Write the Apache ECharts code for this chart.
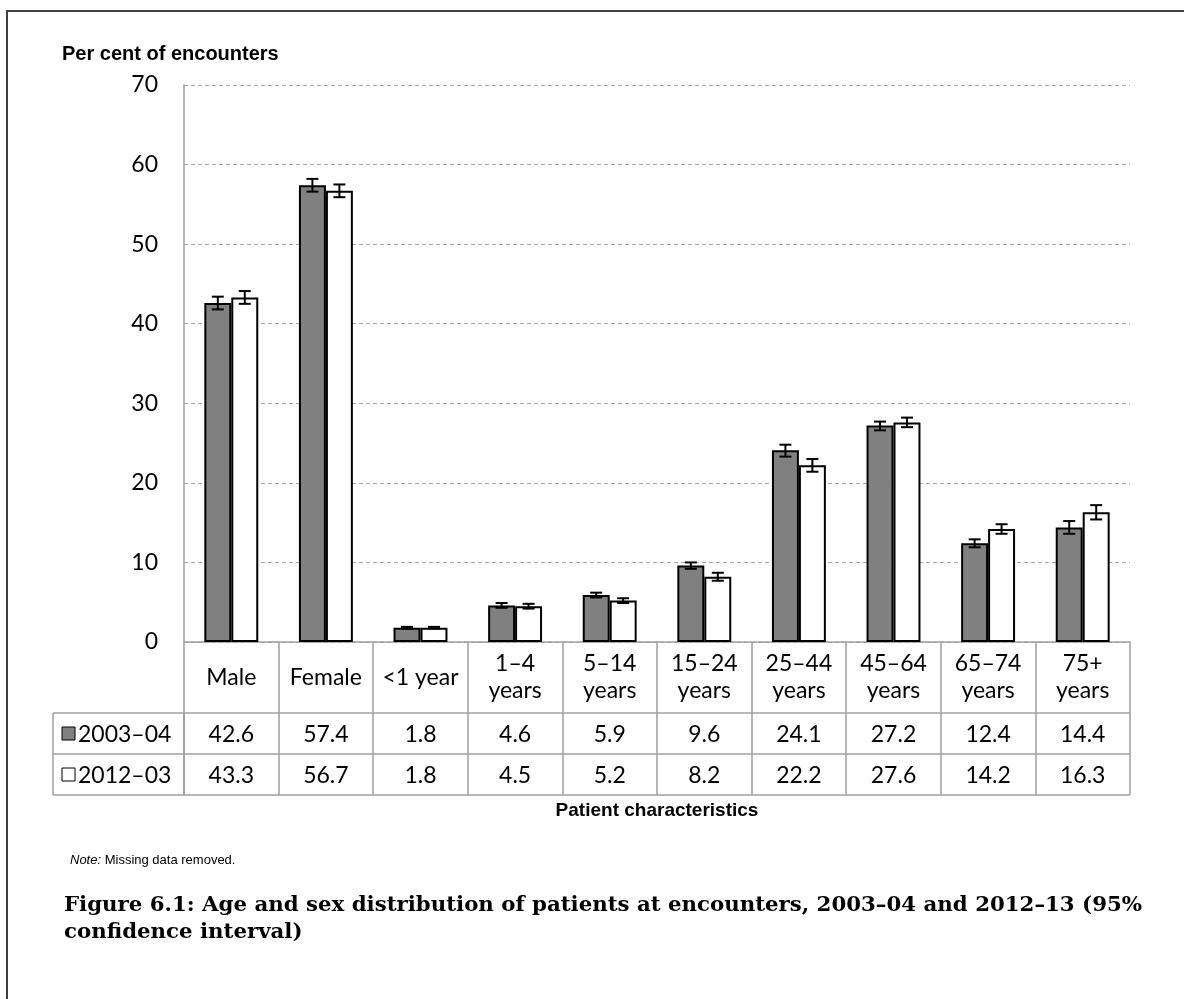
<!DOCTYPE html>
<html>
<head>
<meta charset="utf-8">
<script src="https://cdn.jsdelivr.net/npm/echarts@6/dist/echarts.min.js"></script>
<style>html,body{margin:0;padding:0;background:#fff;}#c{width:1184px;height:999px;}</style>
</head>
<body>
<div id="c"></div>
<script>
const categories = ['Male', 'Female', '<1 year', '1–4\nyears', '5–14\nyears', '15–24\nyears', '25–44\nyears', '45–64\nyears', '65–74\nyears', '75+\nyears'];
const seriesNames = ['2003–04', '2012–03'];
const values2003 = [42.6, 57.4, 1.8, 4.6, 5.9, 9.6, 24.1, 27.2, 12.4, 14.4];
const values2012 = [43.3, 56.7, 1.8, 4.5, 5.2, 8.2, 22.2, 27.6, 14.2, 16.3];
const ciLow2003 = [41.8, 56.6, 1.7, 4.3, 5.6, 9.2, 23.3, 26.6, 11.9, 13.6];
const ciHigh2003 = [43.4, 58.2, 1.9, 4.9, 6.2, 10.0, 24.8, 27.7, 12.9, 15.2];
const ciLow2012 = [42.5, 55.9, 1.7, 4.2, 4.9, 7.7, 21.4, 27.0, 13.6, 15.4];
const ciHigh2012 = [44.1, 57.5, 1.9, 4.8, 5.5, 8.7, 23.0, 28.2, 14.8, 17.2];
const yTicks = { min: 0, max: 70, interval: 10 };

const BODY = 'Lato, "Open Sans", sans-serif';
const FS = 23;
const GRID = { left: 184, right: 54, top: 85, bottom: 357 };
const CAT_GAP = 0.43;
const tableTop = 642, row1 = 713, row2 = 754, tableBottom = 795, tableLeft = 53;
const plotRight = 1184 - GRID.right;

function errData(lo, hi) { return lo.map((v, i) => [i, v, hi[i]]); }
function errRender(sign) {
  return function (params, api) {
    const i = api.value(0);
    const band = api.size([1, 0])[0];
    const barW = band * (1 - CAT_GAP) / 2;
    const x = api.coord([i, 0])[0] + sign * barW / 2;
    const y1 = api.coord([i, api.value(1)])[1];
    const y2 = api.coord([i, api.value(2)])[1];
    const cap = 6;
    const st = { stroke: '#000', lineWidth: 2 };
    return { type: 'group', children: [
      { type: 'line', shape: { x1: x, y1: y1, x2: x, y2: y2 }, style: st },
      { type: 'line', shape: { x1: x - cap, y1: y1, x2: x + cap, y2: y1 }, style: st },
      { type: 'line', shape: { x1: x - cap, y1: y2, x2: x + cap, y2: y2 }, style: st }
    ]};
  };
}

const gray = '#a0a0a0';
const chart = echarts.init(document.getElementById('c'));
const hiddenAxis = (vals, margin) => ({
  type: 'category', data: categories, position: 'bottom', gridIndex: 0,
  axisLine: { show: false }, axisTick: { show: false }, splitLine: { show: false },
  axisLabel: { interval: 0, margin: margin, verticalAlign: 'middle', fontFamily: BODY, fontSize: FS, color: '#000',
    formatter: (v, idx) => vals[idx].toFixed(1) }
});
const r1c = (row1 + row2) / 2, r2c = (row2 + tableBottom) / 2;

const graphics = [
  { type: 'rect', shape: { x: 7, y: 11, width: 1200, height: 1000 }, style: { fill: 'none', stroke: '#404040', lineWidth: 2 }, z: -10 },
  { type: 'text', x: 62, y: 54, style: { text: 'Per cent of encounters', font: 'bold 20px "Liberation Sans", Arial, sans-serif', fill: '#000', verticalAlign: 'middle' } },
  { type: 'line', shape: { x1: tableLeft, y1: row1, x2: plotRight, y2: row1 }, style: { stroke: gray, lineWidth: 1.5 } },
  { type: 'line', shape: { x1: tableLeft, y1: row2, x2: plotRight, y2: row2 }, style: { stroke: gray, lineWidth: 1.5 } },
  { type: 'line', shape: { x1: tableLeft, y1: tableBottom, x2: plotRight, y2: tableBottom }, style: { stroke: gray, lineWidth: 1.5 } },
  { type: 'line', shape: { x1: tableLeft, y1: row1, x2: tableLeft, y2: tableBottom }, style: { stroke: gray, lineWidth: 1.5 } },
  { type: 'line', shape: { x1: GRID.left, y1: row1, x2: GRID.left, y2: tableBottom }, style: { stroke: gray, lineWidth: 1.5 } },
  { type: 'rect', shape: { x: 62, y: r1c - 6.5, width: 13, height: 13 }, style: { fill: '#808080', stroke: '#000', lineWidth: 1 } },
  { type: 'text', x: 78, y: r1c + 1, style: { text: seriesNames[0], font: FS + 'px ' + BODY, fill: '#000', verticalAlign: 'middle' } },
  { type: 'rect', shape: { x: 62, y: r2c - 6.5, width: 13, height: 13 }, style: { fill: '#fff', stroke: '#000', lineWidth: 1 } },
  { type: 'text', x: 78, y: r2c + 1, style: { text: seriesNames[1], font: FS + 'px ' + BODY, fill: '#000', verticalAlign: 'middle' } },
  { type: 'text', x: (GRID.left + plotRight) / 2, y: 811, style: { text: 'Patient characteristics', font: 'bold 19px "Liberation Sans", Arial, sans-serif', fill: '#000', align: 'center', verticalAlign: 'middle' } },
  { type: 'text', x: 70, y: 860, style: { rich: { i: { fontStyle: 'italic', fontSize: 13, fontFamily: '"Liberation Sans", Arial, sans-serif' }, n: { fontSize: 13, fontFamily: '"Liberation Sans", Arial, sans-serif' } }, text: '{i|Note:}{n| Missing data removed.}', fill: '#000', verticalAlign: 'middle' } },
  { type: 'text', x: 64, y: 892, style: { text: 'Figure 6.1: Age and sex distribution of patients at encounters, 2003–04 and 2012–13 (95%\nconfidence interval)', font: 'bold 21.3px "DejaVu Serif", serif', lineHeight: 27, fill: '#000' } }
];

chart.setOption({
  animation: false,
  backgroundColor: '#fff',
  grid: { left: GRID.left, right: GRID.right, top: GRID.top, bottom: GRID.bottom, containLabel: false },
  xAxis: [
    { type: 'category', data: categories, position: 'bottom',
      axisLine: { show: true, lineStyle: { color: gray, width: 1.5 } },
      axisTick: { show: true, alignWithLabel: false, length: tableBottom - tableTop, inside: false, lineStyle: { color: gray, width: 1.5 } },
      axisLabel: { interval: 0, margin: (row1 - tableTop) / 2, verticalAlign: 'middle', lineHeight: 27, fontFamily: BODY, fontSize: FS, color: '#000' } },
    hiddenAxis(values2003, r1c - tableTop + 1),
    hiddenAxis(values2012, r2c - tableTop + 1)
  ],
  yAxis: {
    type: 'value', min: yTicks.min, max: yTicks.max, interval: yTicks.interval,
    axisLine: { show: true, lineStyle: { color: gray, width: 1.5 } },
    axisTick: { show: false },
    axisLabel: { margin: 26, fontFamily: BODY, fontSize: FS, color: '#000' },
    splitLine: { show: true, lineStyle: { color: '#a6a6a6', type: [4, 3], width: 1.2 } }
  },
  series: [
    { name: seriesNames[0], type: 'bar', data: values2003, barGap: '0%', barCategoryGap: (CAT_GAP * 100) + '%',
      itemStyle: { color: '#808080', borderColor: '#000', borderWidth: 2 } },
    { name: seriesNames[1], type: 'bar', data: values2012, barGap: '0%', barCategoryGap: (CAT_GAP * 100) + '%',
      itemStyle: { color: '#fff', borderColor: '#000', borderWidth: 2 } },
    { type: 'custom', renderItem: errRender(-1), data: errData(ciLow2003, ciHigh2003), encode: { x: 0, y: [1, 2] }, z: 10 },
    { type: 'custom', renderItem: errRender(1), data: errData(ciLow2012, ciHigh2012), encode: { x: 0, y: [1, 2] }, z: 10 }
  ],
  graphic: graphics
});
</script>
</body>
</html>
